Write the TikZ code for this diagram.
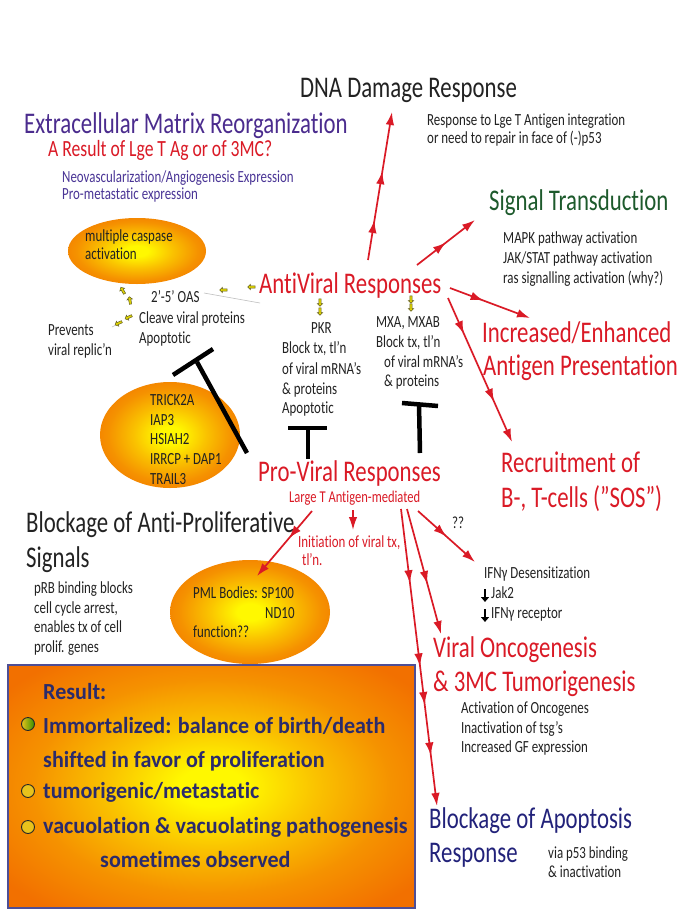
\documentclass[tikz,border=0pt]{standalone}
\usepackage{fontspec}
\setmainfont{Carlito}[FakeStretch=0.76, Ligatures={NoCommon}]
\newfontfamily\resfont{Carlito}[FakeStretch=0.96, Ligatures={NoCommon}]
\usetikzlibrary{arrows.meta,decorations.markings,shapes.arrows,shapes.geometric}
\definecolor{cred}{HTML}{DA1A26}
\definecolor{cpurple}{HTML}{4B2C8E}
\definecolor{cpurple2}{HTML}{4A3596}
\definecolor{cgreen}{HTML}{1D5A2C}
\definecolor{cnavy}{HTML}{22227A}
\definecolor{ctext}{HTML}{222222}
\definecolor{corange}{HTML}{F27000}
\definecolor{cyellow}{HTML}{FFF800}
\definecolor{cresnavy}{HTML}{2B2B6B}
\colorlet{cmid1}{cyellow!60!corange}
\colorlet{cmid2}{cyellow!25!corange}
\pgfdeclareradialshading{blob}{\pgfpoint{0bp}{0bp}}{color(0bp)=(cyellow); color(4bp)=(cyellow); color(13bp)=(cmid1); color(22bp)=(cmid2); color(32bp)=(corange); color(75bp)=(corange)}
\tikzset{
  txt/.style={inner sep=0pt, anchor=base west},
  big/.style={txt, font=\fontsize{30}{32}\selectfont},
  mid/.style={txt, font=\fontsize{23.2}{25}\selectfont},
  small/.style={txt, font=\fontsize{17}{19}\selectfont, text=ctext},
  restxt/.style={txt, font=\resfont\bfseries\fontsize{23}{25}\selectfont, text=cresnavy},
  blobshape/.style={ellipse, shading=blob, inner sep=0pt},
  rarr/.style={cred, line width=1.7pt, -{Latex[length=13pt,width=8.5pt]}},
  mh/.style={postaction={decorate, decoration={markings, mark=at position #1 with {\arrow{Latex[length=13pt,width=8.5pt]}}}}},
  tbar/.style={black, line width=4.5pt},
  yar/.style={single arrow, draw=olive!60!black, fill=yellow!70!olive, line width=0.5pt, minimum height=7.5pt, inner sep=0.9pt, single arrow head extend=1.6pt},
  bullet/.style={circle, draw=black!85, line width=0.9pt, fill=cbul, minimum size=13pt, inner sep=0pt}
}
\definecolor{cbul}{HTML}{E8C21C}
\begin{document}
\begin{tikzpicture}[x=1pt,y=-1pt]
\fill[white] (0,0) rectangle (685,919);
\useasboundingbox (0,0) rectangle (685,919);

% shaded shapes
\node[blobshape, minimum width=138pt, minimum height=66pt] (caspE) at (137,251) {};
\node[blobshape, minimum width=140pt, minimum height=106pt] (trickE) at (170,435) {};
\node[blobshape, minimum width=160pt, minimum height=104pt] (pmlE) at (250,612) {};
\node[rectangle, shading=blob, draw=cnavy!80, line width=1.2pt, minimum width=407pt, minimum height=243pt, inner sep=0pt] (resbox) at (211.5,786.5) {};

% headings
\node[big, text=ctext] (dna) at (300,97) {DNA Damage Response};
\node[big, text=cpurple] (ecm) at (24,133) {Extracellular Matrix Reorganization};
\node[mid, text=cred] (ares) at (48,156) {A Result of Lge T Ag or of 3MC?};
\node[small, text=cpurple2] (neo1) at (62,182) {Neovascularization/Angiogenesis Expression};
\node[small, text=cpurple2] (neo2) at (62,199) {Pro-metastatic expression};
\node[small] (resp1) at (427,125) {Response to Lge T Antigen integration};
\node[small] (resp2) at (427,143) {or need to repair in face of (-)p53};
\node[big, text=cgreen] (sig) at (489,210) {Signal Transduction};
\node[small] (mapk) at (503,243) {MAPK pathway activation};
\node[small] (jak) at (503,263) {JAK/STAT pathway activation};
\node[small] (ras) at (503,283) {ras signalling activation (why?)};
\node[big, text=cred] (anti) at (259,293) {AntiViral Responses};
\node[big, text=cred] (inc1) at (482,342) {Increased/Enhanced};
\node[big, text=cred] (inc2) at (483,375) {Antigen Presentation};
\node[big, text=cred] (rec1) at (501,472) {Recruitment of};
\node[big, text=cred] (rec2) at (501,507) {B-, T-cells ("SOS")};

% antiviral effectors
\node[small] (casp1) at (85,241) {multiple caspase};
\node[small] (casp2) at (85,259) {activation};
\node[small] (oas) at (151,302) {2'-5' OAS};
\node[small] (clv) at (139,323) {Cleave viral proteins};
\node[small] (apo1) at (139,343) {Apoptotic};
\node[small] (prev1) at (48,335) {Prevents};
\node[small] (prev2) at (48,355) {viral replic'n};
\node[small] (pkr) at (311,333) {PKR};
\node[small] (pk1) at (282,353) {Block tx, tl'n};
\node[small] (pk2) at (282,374) {of viral mRNA's};
\node[small] (pk3) at (282,394) {\& proteins};
\node[small] (pk4) at (282,413) {Apoptotic};
\node[small] (mxa) at (376,327) {MXA, MXAB};
\node[small] (mx1) at (376,347) {Block tx, tl'n};
\node[small] (mx2) at (384,367) {of viral mRNA's};
\node[small] (mx3) at (384,386) {\& proteins};
\node[small] (tr1) at (150,405) {TRICK2A};
\node[small] (tr2) at (150,425) {IAP3};
\node[small] (tr3) at (150,444) {HSIAH2};
\node[small] (tr4) at (150,464) {IRRCP + DAP1};
\node[small] (tr5) at (150,484) {TRAIL3};

% pro-viral
\node[big, text=cred] (prov) at (258,481) {Pro-Viral Responses};
\node[small, text=cred, font=\fontsize{16.5}{18}\selectfont] (larget) at (289,502) {Large T Antigen-mediated};
\node[big, text=ctext] (bap1) at (26,532) {Blockage of Anti-Proliferative};
\node[big, text=ctext] (bap2) at (26,567) {Signals};
\node[small] (prb1) at (34,593) {pRB binding blocks};
\node[small] (prb2) at (34,613) {cell cycle arrest,};
\node[small] (prb3) at (34,632) {enables tx of cell};
\node[small] (prb4) at (34,652) {prolif. genes};
\node[small] (pml1) at (193,598) {PML Bodies: SP100};
\node[small] (pml2) at (265,618) {ND10};
\node[small] (pml3) at (193,637) {function??};
\node[small, text=cred] (init1) at (298,547) {Initiation of viral tx,};
\node[small, text=cred] (init2) at (302,565) {tl'n.};
\node[small] (qq) at (452,528) {??};
\node[small] (ifn1) at (484,578) {IFNγ Desensitization};
\node[small] (ifn2) at (491,598) {Jak2};
\node[small] (ifn3) at (491,618) {IFNγ receptor};
\node[big, text=cred] (vo1) at (433,657) {Viral Oncogenesis};
\node[big, text=cred] (vo2) at (433,691) {\& 3MC Tumorigenesis};
\node[small] (act1) at (461,713) {Activation of Oncogenes};
\node[small] (act2) at (461,733) {Inactivation of tsg's};
\node[small] (act3) at (461,752) {Increased GF expression};
\node[big, text=cnavy] (ba1) at (429,828) {Blockage of Apoptosis};
\node[big, text=cnavy] (ba2) at (429,862) {Response};
\node[small] (via1) at (548,858) {via p53 binding};
\node[small] (via2) at (548,877) {\& inactivation};

% result box text
\node[restxt] (r0) at (43,699) {Result:};
\node[restxt] (r1) at (43,733) {Immortalized: balance of birth/death};
\node[restxt] (r2) at (43,767) {shifted in favor of proliferation};
\node[restxt] (r3) at (43,798) {tumorigenic/metastatic};
\node[restxt] (r4) at (43,833) {vacuolation \& vacuolating pathogenesis};
\node[restxt] (r5) at (100,867) {sometimes observed};
\node[bullet, left color=cbul, right color=green!45!black!80!yellow] (b1) at (28,724) {};
\node[bullet] (b2) at (28,791) {};
\node[bullet] (b3) at (28,827) {};

% IFN down arrows
\coordinate (d1s) at (485,589); \coordinate (d1e) at (485,602);
\coordinate (d2s) at (485,609); \coordinate (d2e) at (485,622);
\draw[black, line width=2.8pt, -{Triangle[length=5pt,width=8pt]}] (d1s) -- (d1e);
\draw[black, line width=2.8pt, -{Triangle[length=5pt,width=8pt]}] (d2s) -- (d2e);

% red arrows from AntiViral
\coordinate (aDNAs) at (368,260); \coordinate (aDNAe) at (392,112);
\coordinate (aSIGs) at (417,265); \coordinate (aSIGe) at (475,220);
\coordinate (aINCs) at (450,288); \coordinate (aINCe) at (530,318);
\coordinate (aRECs) at (448,298); \coordinate (aRECe) at (512,442);
\draw[rarr, mh=0.27, mh=0.6] (aDNAs) -- (aDNAe);
\draw[rarr, mh=0.5] (aSIGs) -- (aSIGe);
\draw[rarr, mh=0.42] (aINCs) -- (aINCe);
\draw[rarr, mh=0.25, mh=0.72] (aRECs) -- (aRECe);

% red arrows from Pro-Viral
\coordinate (pPMLs) at (312,511); \coordinate (pPMLe) at (257,576);
\coordinate (pINIs) at (353,510); \coordinate (pINIe) at (353,530);
\coordinate (pIFNs) at (418,511); \coordinate (pIFNe) at (475,562);
\coordinate (pVOs) at (407,509); \coordinate (pVOe) at (441,634);
\coordinate (pBAs) at (401,509); \coordinate (pBAe) at (437,806);
\draw[rarr, mh=0.42] (pPMLs) -- (pPMLe);
\draw[rarr] (pINIs) -- (pINIe);
\draw[rarr, mh=0.5] (pIFNs) -- (pIFNe);
\draw[rarr, mh=0.6] (pVOs) -- (pVOe);
\draw[rarr, mh=0.25, mh=0.53, mh=0.66, mh=0.83] (pBAs) -- (pBAe);

% inhibition T-bars
\coordinate (t1a) at (288,428); \coordinate (t1b) at (327,428);
\coordinate (t1s) at (308,428); \coordinate (t1e) at (308,459);
\coordinate (t2a) at (402,403); \coordinate (t2b) at (438,406);
\coordinate (t2s) at (419,404); \coordinate (t2e) at (420,453);
\coordinate (t3a) at (173,375); \coordinate (t3b) at (213,349);
\coordinate (t3s) at (197,362); \coordinate (t3e) at (247,453);
\draw[tbar] (t1a) -- (t1b); \draw[tbar] (t1s) -- (t1e);
\draw[tbar] (t2a) -- (t2b); \draw[tbar] (t2s) -- (t2e);
\draw[tbar] (t3a) -- (t3b); \draw[tbar] (t3s) -- (t3e);

% thin grey connector lines
\coordinate (g1s) at (204,293); \coordinate (g1e) at (260,303);
\coordinate (g2s) at (112,327); \coordinate (g2e) at (118,324);
\draw[gray!50, line width=0.6pt] (g1s) -- (g1e);
\draw[gray!50, line width=0.6pt] (g2s) -- (g2e);

% small yellow arrows
\node[yar, rotate=180] (y1) at (224,290) {};
\node[yar, rotate=180] (y2) at (252,287) {};
\node[yar, rotate=120] (y3) at (123,291) {};
\node[yar, rotate=100] (y4) at (130,301) {};
\node[yar, rotate=205] (y5) at (129,317) {};
\node[yar, rotate=205] (y6) at (119,323) {};
\node[yar, rotate=-90] (y7) at (320,302) {};
\node[yar, rotate=-90] (y8) at (320,311) {};
\node[yar, rotate=-90] (y9) at (411,299) {};
\node[yar, rotate=-90] (y10) at (411,307) {};
\end{tikzpicture}
\end{document}
